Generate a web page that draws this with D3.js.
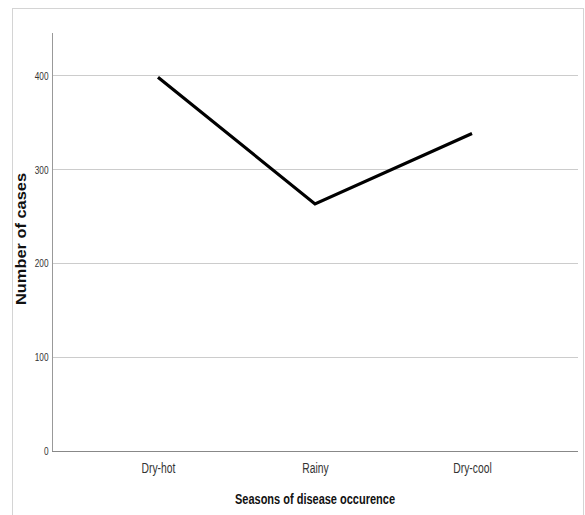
<!DOCTYPE html>
<html>
<head>
<meta charset="utf-8">
<script src="https://cdn.jsdelivr.net/npm/d3@7"></script>
<style>
html,body{margin:0;padding:0;background:#fff;}
svg{display:block;}
</style>
</head>
<body>
<script>
const categories = ["Dry-hot", "Rainy", "Dry-cool"];
const cases = [398, 263, 338];
const yTicks = [0, 100, 200, 300, 400];
const xTitle = "Seasons of disease occurence";
const yTitle = "Number of cases";

const W = 585, H = 515;
const font = "'Liberation Sans', Arial, sans-serif";
const svg = d3.select("body").append("svg").attr("width", W).attr("height", H);

svg.append("rect").attr("x", 12.5).attr("y", 8.5).attr("width", 571).attr("height", 520)
  .attr("fill", "#fff").attr("stroke", "#d4d4d4").attr("stroke-width", 1);

const left = 52, right = 578, bottom = 451;
const y = d3.scaleLinear().domain([0, 445]).range([bottom, 33]);
const x = d3.scalePoint().domain(categories).range([left, right]).padding(0.675);

// gridlines
svg.append("g").selectAll("line").data(yTicks.filter(d => d > 0)).join("line")
  .attr("x1", left).attr("x2", right)
  .attr("y1", d => Math.round(y(d)) + 0.5).attr("y2", d => Math.round(y(d)) + 0.5)
  .attr("stroke", "#cccccc").attr("stroke-width", 1);

// y axis
const yAxis = svg.append("g").attr("transform", `translate(${left + 0.5},0)`)
  .call(d3.axisLeft(y).tickValues(yTicks).tickSize(0).tickFormat(d3.format("d")));
yAxis.select(".domain").attr("stroke", "#999").attr("d", `M0,${y(445)}V${bottom}`);
yAxis.selectAll(".tick text").attr("font-family", font).attr("font-size", 11)
  .attr("fill", "#333").attr("x", 0).attr("dy", "0.35em")
  .attr("transform", "translate(-4,0) scale(0.75,1)");

// x axis
const xAxis = svg.append("g").attr("transform", `translate(0,${bottom + 0.5})`)
  .call(d3.axisBottom(x).tickSize(0));
xAxis.select(".domain").attr("stroke", "#888").attr("d", `M${left},0H${right}`);
xAxis.selectAll(".tick text").attr("font-family", font).attr("font-size", 15)
  .attr("fill", "#333").attr("y", 0).attr("dy", 0)
  .attr("transform", "translate(0,21) scale(0.69,1)");

// line
const line = d3.line().x((d, i) => x(categories[i])).y(d => y(d));
svg.append("path").datum(cases).attr("d", line)
  .attr("fill", "none").attr("stroke", "#000").attr("stroke-width", 3.2)
  .attr("stroke-linejoin", "miter");

// titles
svg.append("text").attr("x", 315).attr("y", 504).attr("text-anchor", "middle")
  .attr("font-family", font).attr("font-weight", "bold").attr("font-size", 14)
  .attr("textLength", 160).attr("lengthAdjust", "spacingAndGlyphs")
  .attr("fill", "#111").text(xTitle);

svg.append("text").attr("transform", "translate(26,239) rotate(-90)").attr("text-anchor", "middle")
  .attr("font-family", font).attr("font-weight", "bold").attr("font-size", 14)
  .attr("textLength", 132).attr("lengthAdjust", "spacingAndGlyphs")
  .attr("fill", "#111").text(yTitle);
</script>
</body>
</html>
